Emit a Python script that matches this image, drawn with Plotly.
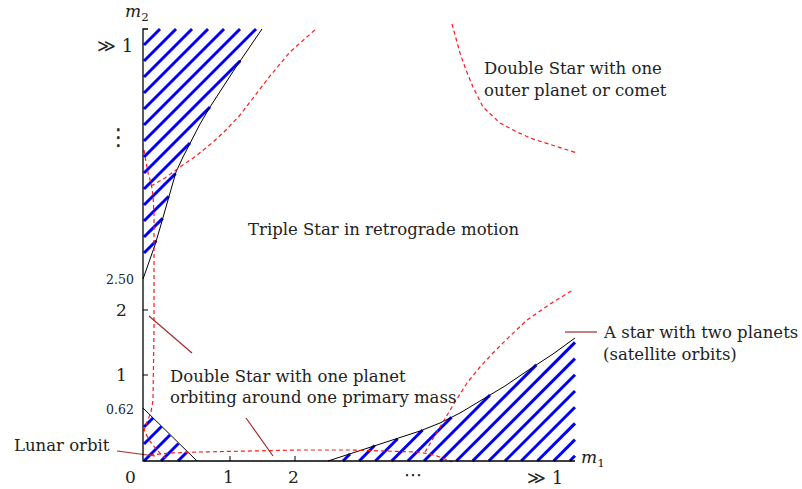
import numpy as np
import plotly.graph_objects as go

# Diagram coordinates: u to the right of the m2 axis, v upwards from the m1 axis.
# The drawing box spans 0..432 in both directions.

# black boundary curves
upper_u = [0, 4, 7, 12, 17, 22, 27, 33, 40, 48, 57, 67, 79, 93, 106, 119]
upper_v = [182, 193, 201, 216, 233, 251, 269, 289, 304, 320, 337, 354, 373, 394, 413, 432]

lunar_u = [0, 7, 17, 27, 37, 46, 54]
lunar_v = [53, 46, 36, 26, 16, 7, 0]

lower_u = [185, 207, 230, 254, 277, 297, 317, 337, 362, 387, 410, 432]
lower_v = [0, 7, 15, 22, 30, 38, 48, 60, 75, 92, 107, 123]

# red dashed orbit-limit curves
left_dash_u = [1, 3, 5, 8, 10, 11, 11, 11, 10, 8, 4, 1, 6, 13, 20, 26]
left_dash_v = [311, 301, 288, 278, 266, 246, 201, 131, 61, 49, 39, 31, 21, 12, 5, 0]

rise_dash_u = [8, 22, 37, 53, 69, 83, 97, 112, 127, 147, 174]
rise_dash_v = [275, 283, 294, 305, 318, 331, 346, 365, 385, 409, 433]

outer_dash_u = [309, 313, 317, 323, 330, 340, 357, 372, 387, 412, 434]
outer_dash_v = [437, 421, 408, 391, 374, 354, 338, 330, 323, 315, 308]

right_dash_u = [282, 290, 300, 312, 324, 337, 350, 367, 384, 407, 430]
right_dash_v = [9, 23, 39, 59, 78, 94, 108, 125, 141, 157, 171]

floor_dash_u = [7, 27, 57, 107, 157, 207, 257, 274, 287, 297, 309]
floor_dash_v = [6, 8, 9, 10, 11, 11, 10, 9, 7, 4, -1]

# pointer lines from labels: (u0, v0, u1, v1)
pointers = [
    (-26, 10, 12, 5),
    (6, 145, 49, 108),
    (103, 43, 130, 5),
    (422, 129, 454, 129),
]

# tick labels
y_tick_pos = [151, 86]
y_tick_text = ["2", "1"]
x_tick_pos = [87, 152]
x_tick_text = ["1", "2"]

BLUE = "#0000ff"
RED = "#ff1a1a"
DARKRED = "#a52a2a"
TXT = "#222222"
SERIF = "DejaVu Serif"
REGION_SIZE = 16.5

fig = go.Figure()


def add_line(u, v, color, width, dash=None):
    fig.add_trace(go.Scatter(
        x=u, y=v, mode="lines",
        line=dict(color=color, width=width, dash=dash),
        hoverinfo="skip", showlegend=False))


def hatch(ks, inside):
    xs, ys = [], []
    for k in ks:
        v = np.linspace(-600, 600, 24001)
        u = v + k
        m = inside(u, v)
        if not m.any():
            continue
        best, cur, best_s, cur_s = 0, 0, 0, 0
        for i, val in enumerate(m):
            if val:
                if cur == 0:
                    cur_s = i
                cur += 1
                if cur > best:
                    best, best_s = cur, cur_s
            else:
                cur = 0
        i0, i1 = best_s, best_s + best - 1
        xs += [u[i0], u[i1], None]
        ys += [v[i0], v[i1], None]
    return xs, ys


def inside_upper(u, v):
    return (u >= 1) & (v <= 432) & (v >= 182) & (u <= np.interp(v, upper_v, upper_u))


def inside_lower(u, v):
    return (v >= 0) & (u <= 432) & (u >= 185) & (v <= np.interp(u, lower_u, lower_v))


def inside_lunar(u, v):
    return (u >= 1) & (v >= 0) & (u <= 54) & (v <= np.interp(u, lunar_u, lunar_v))


for ks, fn in [
    (-415 + 16 * np.arange(14), inside_upper),
    (200 + 16.2 * np.arange(15), inside_lower),
    (-33 + 17 * np.arange(5), inside_lunar),
]:
    hx, hy = hatch(ks, fn)
    add_line(hx, hy, BLUE, 3)

# black boundaries
add_line(upper_u, upper_v, "black", 1)
add_line(lunar_u, lunar_v, "black", 1)
add_line(lower_u, lower_v, "black", 1)

# red dashed curves
for cu, cv in [(left_dash_u, left_dash_v), (rise_dash_u, rise_dash_v),
               (outer_dash_u, outer_dash_v), (right_dash_u, right_dash_v),
               (floor_dash_u, floor_dash_v)]:
    add_line(cu, cv, RED, 1.2, dash="4px,3px")

# pointers
for (u0, v0, u1, v1) in pointers:
    add_line([u0, u1], [v0, v1], DARKRED, 1.2)

# axes
add_line([5, 0, 0, 432], [432, 432, 0, 0], "black", 1.3)
for p in y_tick_pos:
    add_line([0, 5], [p, p], "black", 1)
for p in x_tick_pos:
    add_line([p, p], [0, 5], "black", 1)

ann = []


def txt(x, y, s, size, anchor="center", family=SERIF):
    ann.append(dict(x=x, y=y, text=s, showarrow=False, xanchor=anchor, yanchor="middle",
                    font=dict(family=family, size=size, color=TXT)))


# axis labels
txt(-6, 449, "<i>m</i><sub>2</sub>", 17)
txt(436, 3, "<i>m</i><sub>1</sub>", 17, anchor="left")
txt(-8, 416, "≫ 1", 18, anchor="right")
txt(-25, 324, "⋮", 23, family="DejaVu Sans")
txt(-7, 182, "2.50", 12.5, anchor="right")
txt(-7, 52, "0.62", 12.5, anchor="right")
for p, t in zip(y_tick_pos, y_tick_text):
    txt(-22, p, t, 17)
for p, t in zip(x_tick_pos, x_tick_text):
    txt(p - 2, -16, t, 17)
txt(-13, -16, "0", 17)
txt(270, -13, "⋯", 18, family="DejaVu Sans")
txt(402, -16, "≫ 1", 18)

# region texts
txt(240, 232, "Triple Star in retrograde motion", REGION_SIZE)
txt(339, 393, "Double Star with one", REGION_SIZE, anchor="left")
txt(339, 371, "outer planet or comet", REGION_SIZE, anchor="left")
txt(25, 85, "Double Star with one planet", REGION_SIZE, anchor="left")
txt(25, 64, "orbiting around one primary mass", REGION_SIZE, anchor="left")
txt(-131, 16, "Lunar orbit", REGION_SIZE, anchor="left")
txt(458, 129, "A star with two planets", REGION_SIZE, anchor="left")
txt(458, 107, "(satellite orbits)", REGION_SIZE, anchor="left")

fig.update_layout(
    width=802, height=489,
    margin=dict(l=0, r=0, t=0, b=0),
    paper_bgcolor="white", plot_bgcolor="white",
    xaxis=dict(range=[-143, 659], visible=False, fixedrange=True),
    yaxis=dict(range=[-28, 461], visible=False, fixedrange=True),
    annotations=ann,
    showlegend=False,
)

fig.write_html("out.html")
